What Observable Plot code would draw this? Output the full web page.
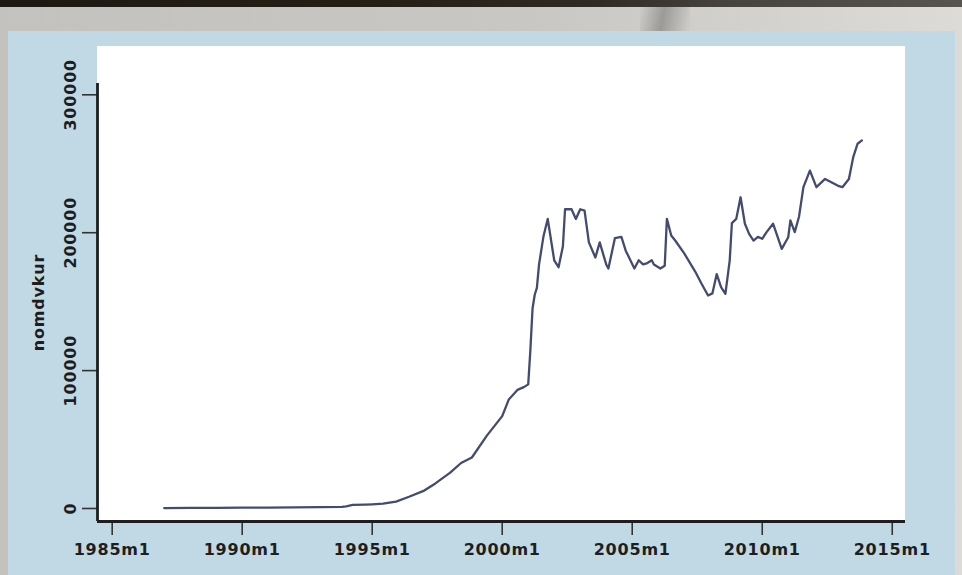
<!DOCTYPE html>
<html>
<head>
<meta charset="utf-8">
<script src="https://cdn.jsdelivr.net/npm/d3@7"></script>
<script src="https://cdn.jsdelivr.net/npm/@observablehq/plot@0.6"></script>
<style>
  html, body { margin: 0; padding: 0; }
  body { width: 962px; height: 575px; overflow: hidden; position: relative;
         background: linear-gradient(90deg, #c3c2be 0%, #c8c7c3 55%, #d3d2ce 80%, #dcdbd7 100%); }
  #topstrip { position: absolute; left: 0; top: 0; width: 962px; height: 7px;
              background: linear-gradient(90deg, #1d1912 0%, #261f16 40%, #2f2a24 62%, #46423d 75%, #57534e 100%); }
  #streak { position: absolute; left: 640px; top: 7px; width: 50px; height: 24px;
            background: linear-gradient(100deg, rgba(60,60,60,0) 0%, rgba(60,60,60,0.35) 45%, rgba(60,60,60,0) 100%); }
  #panel { position: absolute; left: 8px; top: 31px; width: 947px; height: 544px; background: #c1d9e5; }
  #plotregion { position: absolute; left: 97px; top: 46px; width: 808px; height: 475px; background: #ffffff; }
  #chart { position: absolute; left: 0; top: 0; }
  #chart svg text { letter-spacing: 0.8px; }
</style>
</head>
<body>
<div id="topstrip"></div>
<div id="streak"></div>
<div id="panel"></div>
<div id="plotregion"></div>
<div id="chart"></div>
<script>
const dates = [
  "1987-01","1988-01","1989-01","1990-01","1991-01","1992-01","1993-01","1993-11",
  "1994-01","1994-04","1994-10","1995-01","1995-06","1995-12","1996-06","1997-01",
  "1997-06","1998-01","1998-06","1998-11","1999-06","1999-10","2000-01","2000-04",
  "2000-08","2000-11","2001-01","2001-02","2001-03","2001-04","2001-05","2001-06",
  "2001-07","2001-08","2001-10","2001-12","2002-01","2002-03","2002-05","2002-06",
  "2002-09","2002-11","2003-01","2003-03","2003-05","2003-08","2003-10","2004-01",
  "2004-02","2004-05","2004-08","2004-10","2005-02","2005-04","2005-06","2005-08",
  "2005-10","2005-11","2006-02","2006-04","2006-05","2006-07","2006-09","2007-01",
  "2007-06","2007-09","2007-12","2008-02","2008-04","2008-06","2008-08","2008-10",
  "2008-11","2009-01","2009-03","2009-05","2009-07","2009-09","2009-11","2010-01",
  "2010-03","2010-06","2010-10","2011-01","2011-02","2011-04","2011-06","2011-08",
  "2011-11","2012-02","2012-06","2012-12","2013-02","2013-05","2013-07","2013-09",
  "2013-11"
];
const values = [
  300,400,500,600,700,800,1000,1200,
  1600,2600,2800,3000,3500,5000,8500,13000,
  18000,26000,33000,37000,53000,61000,67000,79000,
  86000,88000,90000,115000,145000,155000,160000,177000,
  187000,197000,210000,190000,180000,175000,190000,217000,
  217000,210000,217000,216000,193000,182000,193000,177000,
  174000,196000,197000,187000,174000,180000,177000,178000,
  180000,177000,174000,176000,210000,198000,194000,185000,
  172000,163000,154500,156000,170000,160500,155700,180000,
  207000,210000,225700,206500,199000,194300,197000,195600,
  200400,206500,188300,196700,208900,200400,211800,233000,
  245000,233000,239000,234000,233000,239000,254800,264500,
  266900
];
const xTicks = [1985, 1990, 1995, 2000, 2005, 2010, 2015];
const xTickLabels = ["1985m1","1990m1","1995m1","2000m1","2005m1","2010m1","2015m1"];
const yTicks = [0, 100000, 200000, 300000];
const yLabel = "nomdvkur";

const data = dates.map((d, i) => {
  const [y, m] = d.split("-").map(Number);
  return {t: y + (m - 1) / 12, v: values[i]};
});

const xDomain = [1984.435, 2015.51];
const yDomain = [-9430, 308200];
const ink = "#1e1e1e";

const chart = Plot.plot({
  width: 962,
  height: 575,
  marginLeft: 97,
  marginRight: 57,
  marginTop: 83,
  marginBottom: 54,
  style: {background: "transparent", fontFamily: "DejaVu Sans", fontSize: "16px", fontWeight: "bold", color: ink, overflow: "visible"},
  x: {domain: xDomain, ticks: xTicks},
  y: {domain: yDomain, ticks: yTicks},
  marks: [
    Plot.axisX({ticks: xTicks, tickFormat: (d) => xTickLabels[xTicks.indexOf(d)], tickSize: 14, tickPadding: 8, strokeWidth: 1.6, stroke: "#333", label: null, fill: ink}),
    Plot.axisY({ticks: yTicks, tickFormat: (d) => String(d), tickSize: 15, tickPadding: 7, tickRotate: -90, strokeWidth: 1.6, stroke: "#333", fill: ink,
      label: yLabel, labelAnchor: "center", labelOffset: 65, labelArrow: "none"}),
    Plot.ruleY([yDomain[0]], {stroke: ink, strokeWidth: 2.8}),
    Plot.ruleX([xDomain[0]], {stroke: ink, strokeWidth: 2.8}),
    Plot.line(data, {x: "t", y: "v", stroke: "#434c70", strokeWidth: 2.3, strokeLinejoin: "round"})
  ]
});
document.getElementById("chart").appendChild(chart);
</script>
</body>
</html>
